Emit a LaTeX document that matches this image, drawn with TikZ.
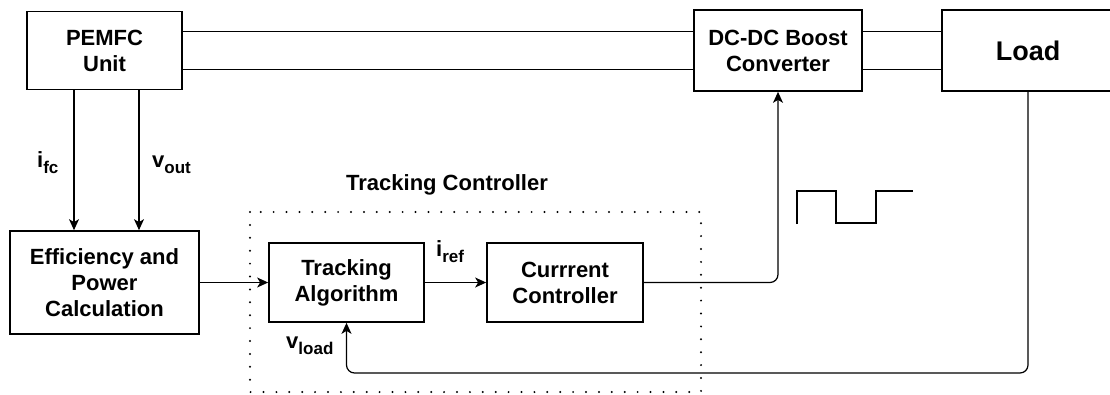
\documentclass[tikz,border=0pt]{standalone}
\usepackage{fontspec}
\setmainfont{Liberation Sans}
\usetikzlibrary{arrows.meta}

\newcommand{\lowidx}[1]{\raisebox{-6.5pt}{\fontsize{17}{20}\selectfont #1}}

\tikzset{
  blk/.style={draw, line width=1.7pt, align=center, inner sep=0pt,
    font=\bfseries\fontsize{22}{26}\selectfont},
  sig/.style={line width=1.2pt},
  arr/.style={sig, -{Stealth[length=11pt,width=10pt,inset=3pt]}},
  lbl/.style={inner sep=0pt, font=\bfseries\fontsize{22}{26}\selectfont},
  frame/.style={line width=2.2pt, line cap=round, dash pattern=on 0pt off 12.9pt},
}

\begin{document}
\begin{tikzpicture}[x=1pt,y=-1pt]
\useasboundingbox (0,0) rectangle (1110,394);

% Blocks
\node[blk, minimum width=155pt, minimum height=78pt] (pemfc) at (104.5,50.5) {PEMFC\\Unit};
\node[blk, minimum width=168pt, minimum height=81pt] (boost) at (778,50.5) {DC-DC Boost\\Converter};
\node[blk, minimum width=172pt, minimum height=81pt,
  font=\bfseries\fontsize{27}{32}\selectfont] (load) at (1028,50.5) {Load};
\node[blk, minimum width=189pt, minimum height=103pt] (eff) at (104.5,282.5) {Efficiency and\\Power\\Calculation};
\node[blk, minimum width=155pt, minimum height=79pt] (track) at (346.5,282.5) {Tracking\\Algorithm};
\node[blk, minimum width=156pt, minimum height=79pt] (curr) at (565,282.5) {Currrent\\Controller};

% Tracking controller frame
\draw[frame] (250,212) rectangle (701,392);
\node[lbl, anchor=base] (tclabel) at (447,190) {Tracking Controller};

% Power lines
\draw[sig] ([yshift=19pt]pemfc.east) -- ([yshift=19pt]boost.west);
\draw[sig] ([yshift=-19pt]pemfc.east) -- ([yshift=-19pt]boost.west);
\draw[sig] ([yshift=19pt]boost.east) -- ([yshift=19pt]load.west);
\draw[sig] ([yshift=-19pt]boost.east) -- ([yshift=-19pt]load.west);

% Measurements
\draw[arr] ([xshift=-30.5pt]pemfc.south) -- ([xshift=-30.5pt]eff.north);
\draw[arr] ([xshift=34.5pt]pemfc.south) -- ([xshift=34.5pt]eff.north);
\node[lbl, anchor=base west] (ifc) at (37,167) {i\lowidx{fc}};
\node[lbl, anchor=base west] (vout) at (152,167) {v\lowidx{out}};

% Control path
\draw[arr] (eff.east) -- (track.west);
\draw[arr] (track.east) -- (curr.west);
\node[lbl, anchor=base west] (iref) at (436,256) {i\lowidx{ref}};
\draw[arr, rounded corners=8pt] (curr.east) -| (boost.south);

% Feedback
\coordinate (fb) at (700,373);
\draw[arr, rounded corners=8pt] (load.south) |- (fb) -| (track.south);
\node[lbl, anchor=base west] (vload) at (286,348) {v\lowidx{load}};

% PWM signal
\draw[sig] (797,224) -- (797,191) -- (836,191) -- (836,223) -- (876,223) -- (876,191) -- (913,191);

\end{tikzpicture}
\end{document}
